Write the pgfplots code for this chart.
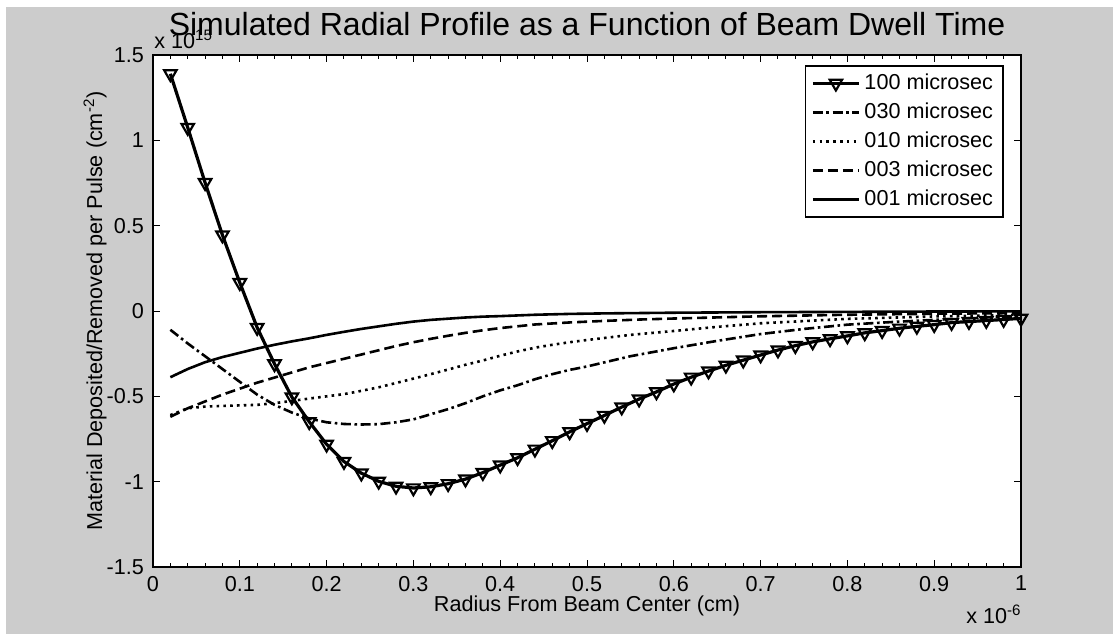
\documentclass[border=0pt]{standalone}
\usepackage{fontspec}
\setmainfont{Liberation Sans}
\usepackage{pgfplots}
\pgfplotsset{compat=1.18}
\definecolor{figgray}{RGB}{204,204,204}

% values: x in units of 1e-6 cm, y in units of 1e15 cm^-2
\pgfplotstableread{
x y
0.02 1.39
0.04 1.075
0.06 0.752
0.08 0.445
0.10 0.166
0.12 -0.097
0.14 -0.31
0.16 -0.504
0.18 -0.649
0.20 -0.781
0.22 -0.882
0.24 -0.95
0.26 -0.998
0.28 -1.027
0.30 -1.037
0.32 -1.03
0.34 -1.012
0.36 -0.985
0.38 -0.947
0.40 -0.903
0.42 -0.86
0.44 -0.81
0.46 -0.76
0.48 -0.708
0.50 -0.66
0.52 -0.612
0.54 -0.563
0.56 -0.516
0.58 -0.474
0.60 -0.428
0.62 -0.388
0.64 -0.352
0.66 -0.318
0.68 -0.288
0.70 -0.258
0.72 -0.229
0.74 -0.203
0.76 -0.181
0.78 -0.163
0.80 -0.146
0.82 -0.128
0.84 -0.115
0.86 -0.101
0.88 -0.09
0.90 -0.08
0.92 -0.068
0.94 -0.062
0.96 -0.056
0.98 -0.05
1.00 -0.043
}\tcent

\pgfplotstableread{
x y
0.02 -0.11
0.04 -0.19
0.06 -0.265
0.08 -0.34
0.10 -0.415
0.12 -0.49
0.14 -0.55
0.16 -0.595
0.18 -0.63
0.20 -0.652
0.22 -0.662
0.24 -0.665
0.26 -0.663
0.28 -0.652
0.30 -0.635
0.32 -0.605
0.34 -0.575
0.36 -0.54
0.38 -0.5
0.40 -0.465
0.42 -0.435
0.44 -0.4
0.46 -0.37
0.48 -0.345
0.50 -0.325
0.55 -0.265
0.60 -0.218
0.65 -0.175
0.70 -0.135
0.75 -0.105
0.80 -0.08
0.85 -0.065
0.90 -0.052
0.95 -0.04
1.00 -0.03
}\tthirty

\pgfplotstableread{
x y
0.02 -0.61
0.04 -0.57
0.06 -0.56
0.08 -0.556
0.10 -0.553
0.12 -0.55
0.14 -0.54
0.16 -0.527
0.18 -0.513
0.20 -0.5
0.22 -0.487
0.24 -0.468
0.26 -0.447
0.28 -0.422
0.30 -0.396
0.32 -0.37
0.34 -0.343
0.36 -0.315
0.38 -0.29
0.40 -0.262
0.42 -0.237
0.44 -0.215
0.46 -0.198
0.48 -0.183
0.50 -0.17
0.55 -0.14
0.60 -0.117
0.65 -0.093
0.70 -0.072
0.80 -0.046
0.90 -0.032
1.00 -0.022
}\tten

\pgfplotstableread{
x y
0.02 -0.62
0.04 -0.57
0.06 -0.53
0.08 -0.49
0.10 -0.455
0.12 -0.42
0.14 -0.39
0.16 -0.36
0.18 -0.33
0.20 -0.305
0.22 -0.28
0.24 -0.255
0.26 -0.23
0.28 -0.205
0.30 -0.183
0.32 -0.163
0.34 -0.145
0.36 -0.128
0.38 -0.113
0.40 -0.1
0.44 -0.079
0.48 -0.067
0.52 -0.058
0.56 -0.05
0.60 -0.044
0.70 -0.031
0.80 -0.022
0.90 -0.016
1.00 -0.012
}\tthree

\pgfplotstableread{
x y
0.02 -0.388
0.04 -0.34
0.06 -0.30
0.08 -0.27
0.10 -0.245
0.12 -0.22
0.14 -0.198
0.16 -0.178
0.18 -0.16
0.20 -0.14
0.22 -0.122
0.24 -0.105
0.26 -0.09
0.28 -0.075
0.30 -0.062
0.32 -0.052
0.34 -0.045
0.36 -0.038
0.38 -0.033
0.40 -0.03
0.44 -0.022
0.48 -0.017
0.52 -0.014
0.56 -0.012
0.60 -0.01
0.70 -0.007
0.80 -0.005
0.90 -0.003
1.00 -0.002
}\tone

\begin{document}
\begin{tikzpicture}[x=1pt,y=1pt]
\fill[figgray] (3,0) rectangle (556.5,313.5);
\begin{axis}[
    at={(76.5pt,33.5pt)}, anchor=south west,
    scale only axis,
    width=434pt, height=256pt,
    xmin=0, xmax=1, ymin=-1.5, ymax=1.5,
    xtick={0,0.1,0.2,0.3,0.4,0.5,0.6,0.7,0.8,0.9,1},
    xticklabels={0,0.1,0.2,0.3,0.4,0.5,0.6,0.7,0.8,0.9,1},
    ytick={-1.5,-1,-0.5,0,0.5,1,1.5},
    yticklabels={-1.5,-1,-0.5,0,0.5,1,1.5},
    minor x tick num=4,
    tick align=inside,
    major tick length=3.5pt, minor tick length=2pt,
    every tick/.style={black, line width=0.5pt},
    axis line style={line width=0.7pt},
    axis background/.style={fill=white},
    tick label style={font=\fontsize{10.8}{12}\selectfont},
    xticklabel style={yshift=-1pt},
    yticklabel style={xshift=-1pt},
    label style={font=\fontsize{10.8}{12}\selectfont},
    xlabel={Radius From Beam Center (cm)},
    ylabel={Material Deposited/Removed per Pulse (cm\textsuperscript{-2})},
    xlabel style={at={(axis description cs:0.5,-0.076)}, anchor=center},
    ylabel style={at={(axis description cs:-0.0668,0.5)}, anchor=center},
    legend image code/.code={\draw[mark repeat=2,mark phase=2,#1] plot coordinates {(0pt,0pt) (11.5pt,0pt) (23pt,0pt)};},
    legend style={at={(0.980,0.980)}, anchor=north east, draw=black, line width=0.7pt,
      fill=white, font=\fontsize{10.8}{12}\selectfont, row sep=1.2pt,
      inner xsep=3pt, inner ysep=2pt},
    legend cell align=left,
]
\addplot[black, line width=1.6pt, mark=triangle, mark size=3.6pt,
  mark options={solid, rotate=180, line width=1.1pt, fill=black!35}] table[x=x,y=y] {\tcent};
\addlegendentry{100 microsec}
\addplot[black, line width=1.3pt, dash pattern=on 5pt off 1.8pt on 1.3pt off 1.8pt] table[x=x,y=y] {\tthirty};
\addlegendentry{030 microsec}
\addplot[black, line width=1.3pt, dash pattern=on 1.3pt off 2.1pt] table[x=x,y=y] {\tten};
\addlegendentry{010 microsec}
\addplot[black, line width=1.3pt, dash pattern=on 5pt off 2.5pt] table[x=x,y=y] {\tthree};
\addlegendentry{003 microsec}
\addplot[black, line width=1.3pt] table[x=x,y=y] {\tone};
\addlegendentry{001 microsec}
\end{axis}
\node[anchor=base west, inner sep=0, font=\fontsize{10.8}{12}\selectfont] at (77,293) {x 10\textsuperscript{15}};
\node[anchor=base, inner sep=0, font=\fontsize{16}{19}\selectfont] at (293.5,299.5) {Simulated Radial Profile as a Function of Beam Dwell Time};
\node[anchor=base east, inner sep=0, font=\fontsize{10.8}{12}\selectfont] at (511,5.5) {x 10\textsuperscript{-6}};
\pgfresetboundingbox
\path (0,0) rectangle (556.5,317);
\end{tikzpicture}
\end{document}
